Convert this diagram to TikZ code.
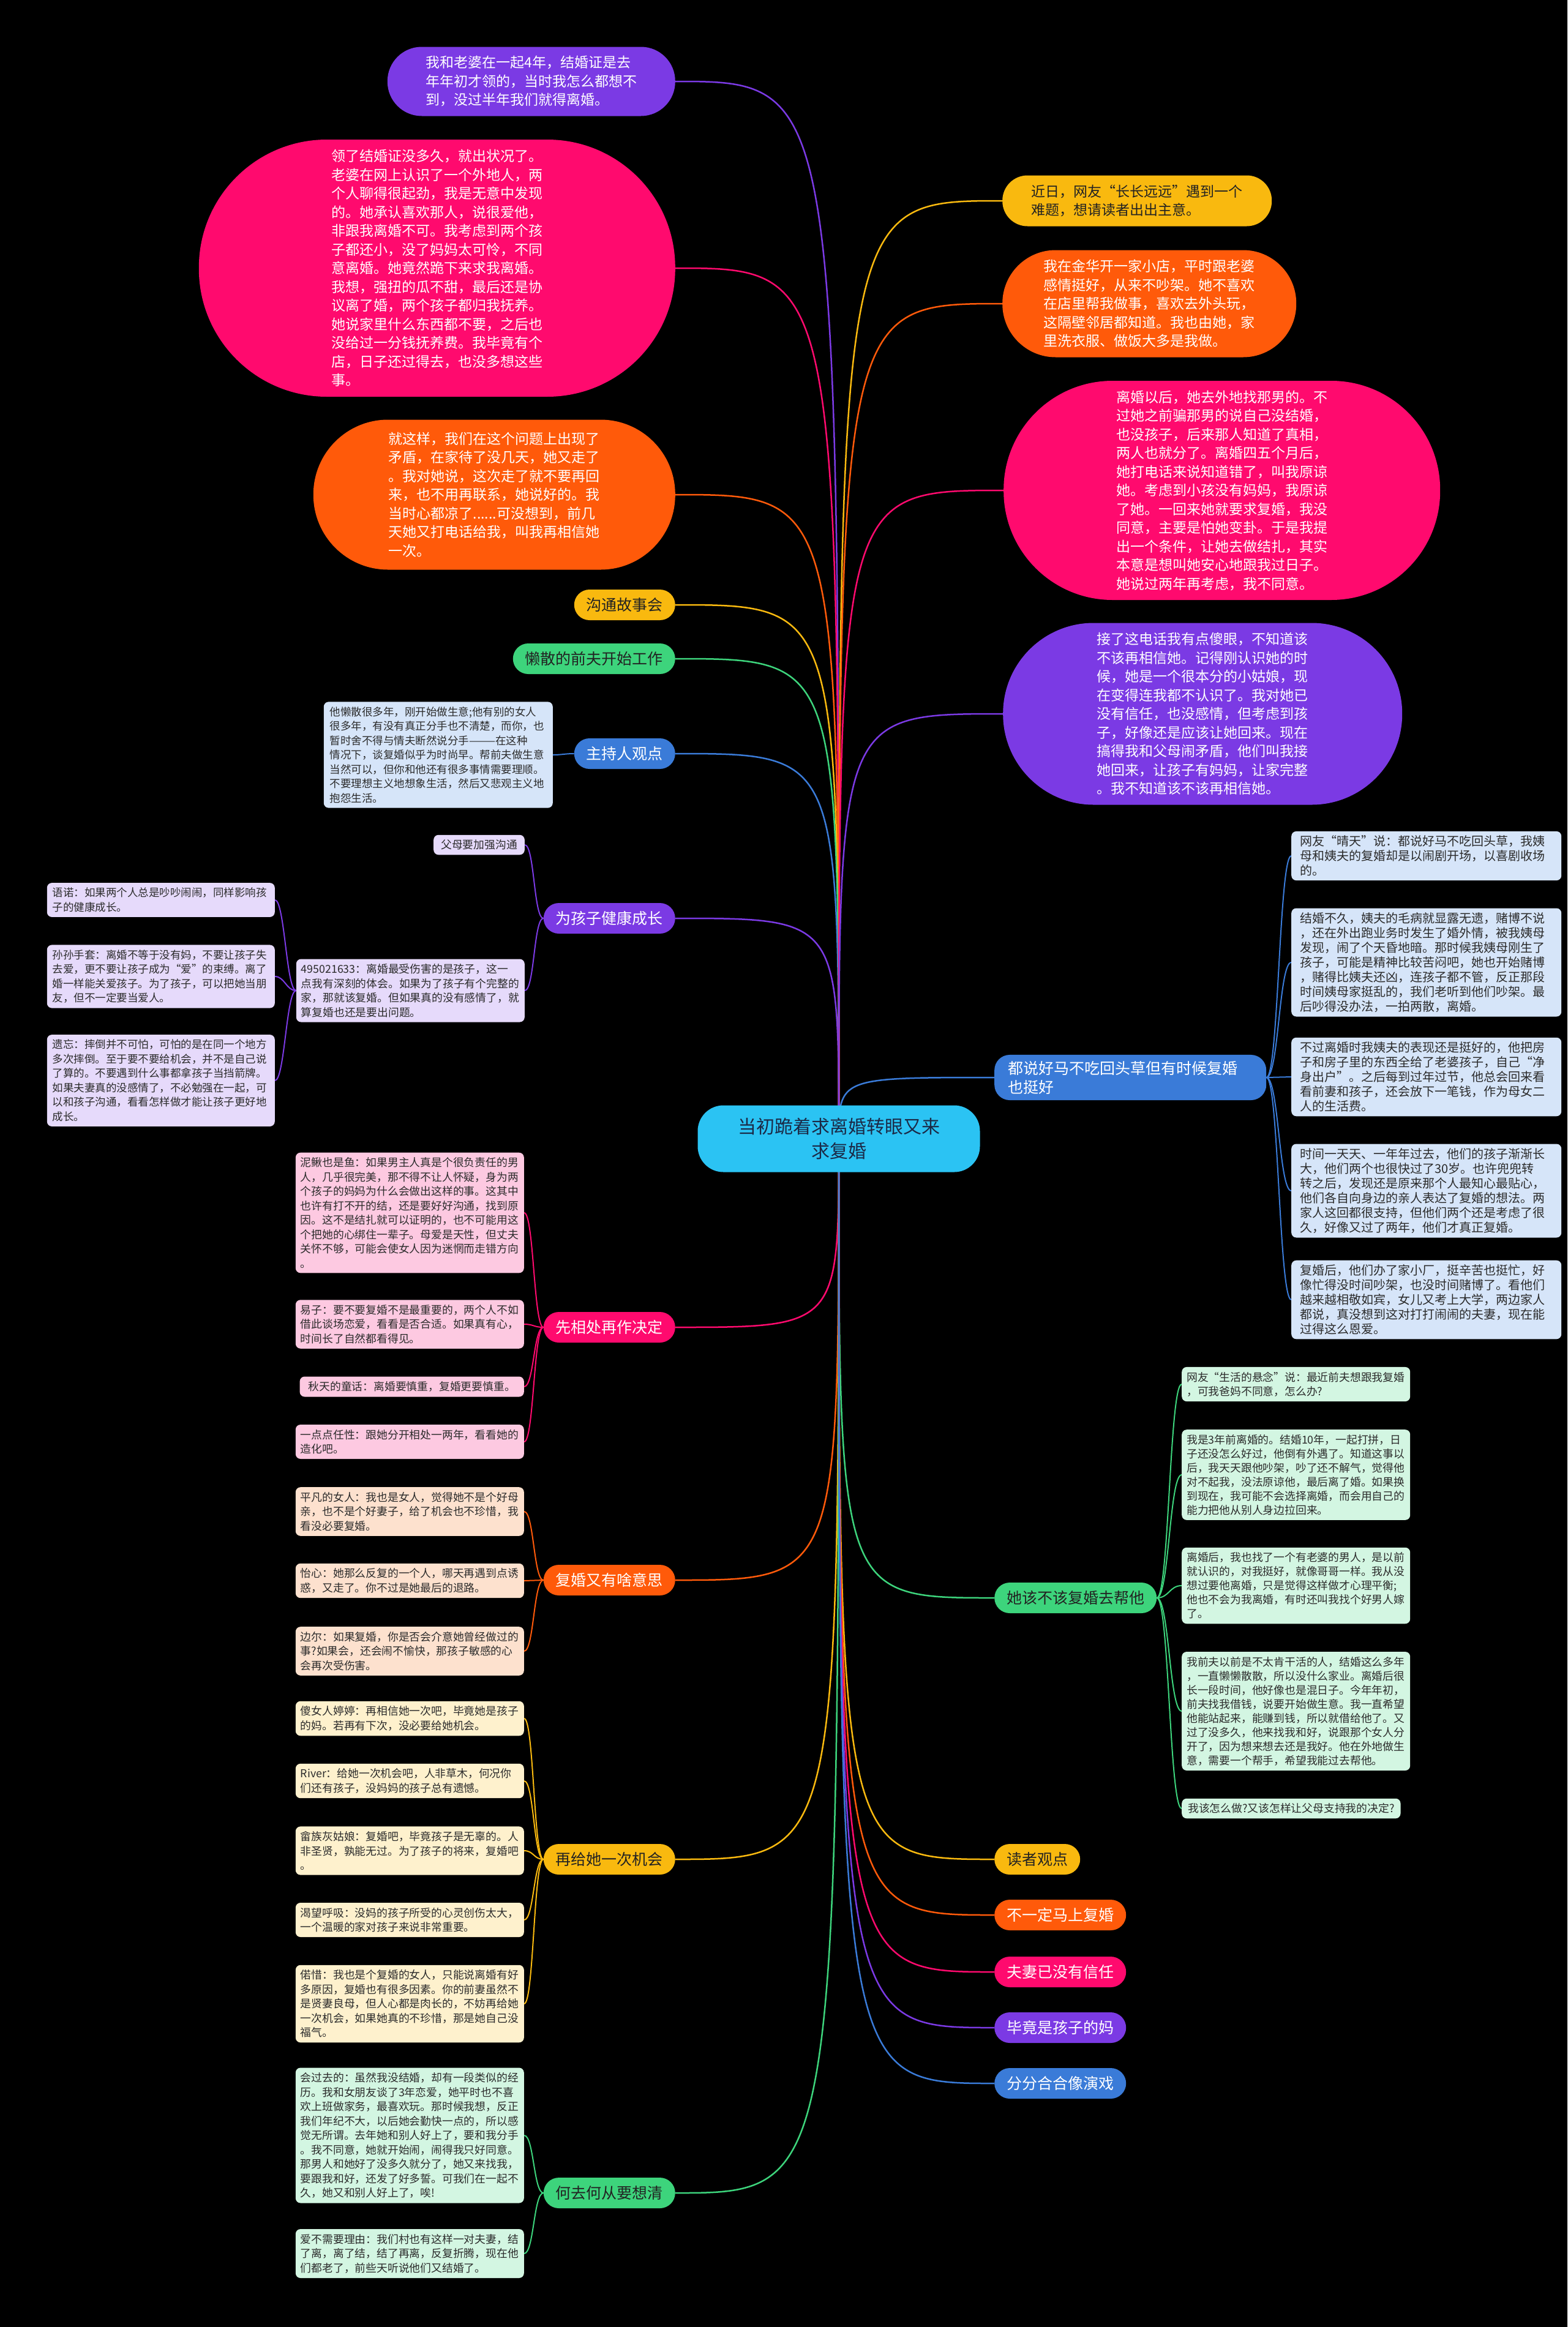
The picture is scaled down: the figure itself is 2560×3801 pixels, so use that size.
\documentclass[tikz,border=0pt]{standalone}
\usepackage{fontspec}
\setmainfont{Noto Sans CJK SC}
\usetikzlibrary{calc}
\pgfdeclarelayer{bg}
\pgfdeclarelayer{lines}
\pgfsetlayers{bg,lines,main}
\definecolor{cCtr}{HTML}{2BC3F3}
\definecolor{cCtrT}{HTML}{1B2A47}
\definecolor{cPur}{HTML}{7B3AE4}
\definecolor{cPnk}{HTML}{FF0A6E}
\definecolor{cOra}{HTML}{FF5A0A}
\definecolor{cYel}{HTML}{F9B90F}
\definecolor{cGrn}{HTML}{3DD47C}
\definecolor{cBlu}{HTML}{3A7BD8}
\definecolor{fLav}{HTML}{E6DAFB}
\definecolor{fPnk}{HTML}{FDC9E1}
\definecolor{fPch}{HTML}{FDE1CE}
\definecolor{fCrm}{HTML}{FEF1CD}
\definecolor{fMnt}{HTML}{D3F6E2}
\definecolor{fLbl}{HTML}{D6E5F9}
\definecolor{cTxt}{HTML}{2B2B2B}
\definecolor{cDark}{HTML}{222222}
\newcommand\mmL[2]{\draw[ln,#1] (ctr.center) .. controls (ctr.center |- #2) .. (#2);}
\newcommand\mmA[3]{\draw[sub,#1] (#2.west) .. controls +(-16pt,0pt) and +(16pt,0pt) .. (#3.east);}
\newcommand\mmB[3]{\draw[sub,#1] (#2.east) .. controls +(20pt,0pt) and +(-20pt,0pt) .. (#3.west);}
\tikzset{
 bub/.style={inner sep=0pt, align=left, text=white, font=\fontsize{23pt}{30.5pt}\selectfont},
 lone/.style={rounded corners=25pt, minimum height=50pt, inner xsep=20pt, inner ysep=10pt, font=\fontsize{25pt}{31pt}\selectfont, text=white},
 kid/.style={rounded corners=8pt, align=left, text=cTxt, inner ysep=8pt, font=\fontsize{17.8pt}{23.5pt}\selectfont},
 kidL/.style={kid, text width=357pt, inner xsep=8pt, anchor=east},
 kidV/.style={kid, text width=354pt, inner xsep=9pt, anchor=east, font=\fontsize{17.5pt}{23.5pt}\selectfont},
 kidR/.style={kid, text width=357pt, inner xsep=8pt, anchor=west, font=\fontsize{17.8pt}{23pt}\selectfont},
 kidB/.style={kid, text width=413pt, inner xsep=14pt, inner ysep=7pt, anchor=west, font=\fontsize{20pt}{24pt}\selectfont},
 ln/.style={line width=2.5pt},
 sub/.style={line width=2pt},
}
\begin{document}
\begin{tikzpicture}[x=1pt,y=-1pt]
\useasboundingbox (0,0) rectangle (2560,3801);
\begin{pgfonlayer}{bg}
\fill[black] (0,0) rectangle (2560,3801);
\end{pgfonlayer}

% centre
\node[fill=cCtr, rounded corners=42pt, minimum width=461pt, minimum height=109pt, align=center, text=cCtrT, font=\fontsize{30pt}{40pt}\selectfont] (ctr) at (1370,1860) {当初跪着求离婚转眼又来\\求复婚};

% story bubbles
\node[bub, fill=cPur, minimum width=470pt, minimum height=113pt, rounded corners=56pt, anchor=east] (b1) at (1103,133) {我和老婆在一起4年，结婚证是去\\年年初才领的，当时我怎么都想不\\到，没过半年我们就得离婚。};
\node[bub, fill=cPnk, minimum width=778pt, minimum height=420pt, rounded corners=209pt, anchor=east] (b2) at (1103,438) {领了结婚证没多久，就出状况了。\\老婆在网上认识了一个外地人，两\\个人聊得很起劲，我是无意中发现\\的。她承认喜欢那人，说很爱他，\\非跟我离婚不可。我考虑到两个孩\\子都还小，没了妈妈太可怜，不同\\意离婚。她竟然跪下来求我离婚。\\我想，强扭的瓜不甜，最后还是协\\议离了婚，两个孩子都归我抚养。\\她说家里什么东西都不要，之后也\\没给过一分钱抚养费。我毕竟有个\\店，日子还过得去，也没多想这些\\事。};
\node[bub, fill=cOra, minimum width=591pt, minimum height=245pt, rounded corners=122pt, anchor=east] (b3) at (1103,808) {就这样，我们在这个问题上出现了\\矛盾，在家待了没几天，她又走了\\。我对她说，这次走了就不要再回\\来，也不用再联系，她说好的。我\\当时心都凉了......可没想到，前几\\天她又打电话给我，叫我再相信她\\一次。};
\node[bub, fill=cYel, text=cDark, minimum width=440pt, minimum height=83pt, rounded corners=41pt, anchor=west] (b4) at (1637,328) {近日，网友“长长远远”遇到一个\\难题，想请读者出出主意。};
\node[bub, fill=cOra, minimum width=480pt, minimum height=175pt, rounded corners=87pt, anchor=west] (b5) at (1637,496) {我在金华开一家小店，平时跟老婆\\感情挺好，从来不吵架。她不喜欢\\在店里帮我做事，喜欢去外头玩，\\这隔壁邻居都知道。我也由她，家\\里洗衣服、做饭大多是我做。};
\node[bub, fill=cPnk, minimum width=713pt, minimum height=358pt, rounded corners=178pt, anchor=west] (b6) at (1639,801) {离婚以后，她去外地找那男的。不\\过她之前骗那男的说自己没结婚，\\也没孩子，后来那人知道了真相，\\两人也就分了。离婚四五个月后，\\她打电话来说知道错了，叫我原谅\\她。考虑到小孩没有妈妈，我原谅\\了她。一回来她就要求复婚，我没\\同意，主要是怕她变卦。于是我提\\出一个条件，让她去做结扎，其实\\本意是想叫她安心地跟我过日子。\\她说过两年再考虑，我不同意。};
\node[bub, fill=cPur, minimum width=652pt, minimum height=297pt, rounded corners=148pt, anchor=west] (b7) at (1638,1166) {接了这电话我有点傻眼，不知道该\\不该再相信她。记得刚认识她的时\\候，她是一个很本分的小姑娘，现\\在变得连我都不认识了。我对她已\\没有信任，也没感情，但考虑到孩\\子，好像还是应该让她回来。现在\\搞得我和父母闹矛盾，他们叫我接\\她回来，让孩子有妈妈，让家完整\\。我不知道该不该再相信她。};

% first level, left
\node[lone, fill=cYel, text=cDark, anchor=east] (n1) at (1103,988) {沟通故事会};
\node[lone, fill=cGrn, text=cDark, anchor=east] (n2) at (1103,1076) {懒散的前夫开始工作};
\node[lone, fill=cBlu, anchor=east] (n3) at (1103,1231) {主持人观点};
\node[lone, fill=cPur, anchor=east] (n4) at (1103,1500) {为孩子健康成长};
\node[lone, fill=cPnk, anchor=east] (n5) at (1103,2168) {先相处再作决定};
\node[lone, fill=cOra, anchor=east] (n6) at (1103,2581) {复婚又有啥意思};
\node[lone, fill=cYel, text=cDark, anchor=east] (n7) at (1103,3037) {再给她一次机会};
\node[lone, fill=cGrn, text=cDark, anchor=east] (n8) at (1103,3582) {何去何从要想清};

% first level, right
\node[lone, fill=cBlu, anchor=west, align=left, text width=400pt, inner xsep=22pt] (m1) at (1624,1760) {都说好马不吃回头草但有时候复婚\\也挺好};
\node[lone, fill=cGrn, text=cDark, anchor=west] (m2) at (1624,2610) {她该不该复婚去帮他};
\node[lone, fill=cYel, text=cDark, anchor=west] (m3) at (1624,3037) {读者观点};
\node[lone, fill=cOra, anchor=west] (m4) at (1624,3128) {不一定马上复婚};
\node[lone, fill=cPnk, anchor=west] (m5) at (1624,3221) {夫妻已没有信任};
\node[lone, fill=cPur, anchor=west] (m6) at (1624,3312) {毕竟是孩子的妈};
\node[lone, fill=cBlu, anchor=west] (m7) at (1624,3403) {分分合合像演戏};

% host
\node[kid, fill=fLbl, text width=354pt, inner xsep=10pt, font=\fontsize{17.5pt}{23.5pt}\selectfont, anchor=east] (h1) at (903,1233) {他懒散很多年，刚开始做生意;他有别的女人\\很多年，有没有真正分手也不清楚，而你，也\\暂时舍不得与情夫断然说分手———在这种\\情况下，谈复婚似乎为时尚早。帮前夫做生意\\当然可以，但你和他还有很多事情需要理顺。\\不要理想主义地想象生活，然后又悲观主义地\\抱怨生活。};

% children of 为孩子健康成长
\node[kid, fill=fLav, anchor=east, inner xsep=12pt] (p1) at (857,1380) {父母要加强沟通};
\node[kidL, fill=fLav] (p2) at (857,1618) {495021633：离婚最受伤害的是孩子，这一\\点我有深刻的体会。如果为了孩子有个完整的\\家，那就该复婚。但如果真的没有感情了，就\\算复婚也还是要出问题。};
\node[kidV, fill=fLav] (p3) at (449,1470) {语诺：如果两个人总是吵吵闹闹，同样影响孩\\子的健康成长。};
\node[kidV, fill=fLav] (p4) at (449,1595) {孙孙手套：离婚不等于没有妈，不要让孩子失\\去爱，更不要让孩子成为“爱”的束缚。离了\\婚一样能关爱孩子。为了孩子，可以把她当朋\\友，但不一定要当爱人。};
\node[kidV, fill=fLav] (p5) at (449,1765) {遗忘：摔倒并不可怕，可怕的是在同一个地方\\多次摔倒。至于要不要给机会，并不是自己说\\了算的。不要遇到什么事都拿孩子当挡箭牌。\\如果夫妻真的没感情了，不必勉强在一起，可\\以和孩子沟通，看看怎样做才能让孩子更好地\\成长。};

% children of 先相处再作决定
\node[kidL, fill=fPnk] (q1) at (856,1981) {泥鳅也是鱼：如果男主人真是个很负责任的男\\人，几乎很完美，那不得不让人怀疑，身为两\\个孩子的妈妈为什么会做出这样的事。这其中\\也许有打不开的结，还是要好好沟通，找到原\\因。这不是结扎就可以证明的，也不可能用这\\个把她的心绑住一辈子。母爱是天性，但丈夫\\关怀不够，可能会使女人因为迷惘而走错方向\\。};
\node[kidL, fill=fPnk] (q2) at (856,2163) {易子：要不要复婚不是最重要的，两个人不如\\借此谈场恋爱，看看是否合适。如果真有心，\\时间长了自然都看得见。};
\node[kid, fill=fPnk, anchor=east, inner xsep=14pt] (q3) at (856,2265) {秋天的童话：离婚要慎重，复婚更要慎重。};
\node[kidL, fill=fPnk] (q4) at (856,2355) {一点点任性：跟她分开相处一两年，看看她的\\造化吧。};

% children of 复婚又有啥意思
\node[kidL, fill=fPch] (r1) at (856,2469) {平凡的女人：我也是女人，觉得她不是个好母\\亲，也不是个好妻子，给了机会也不珍惜，我\\看没必要复婚。};
\node[kidL, fill=fPch] (r2) at (856,2582) {怡心：她那么反复的一个人，哪天再遇到点诱\\惑，又走了。你不过是她最后的退路。};
\node[kidL, fill=fPch] (r3) at (856,2697) {边尔：如果复婚，你是否会介意她曾经做过的\\事?如果会，还会闹不愉快，那孩子敏感的心\\会再次受伤害。};

% children of 再给她一次机会
\node[kidL, fill=fCrm] (s1) at (856,2807) {傻女人婷婷：再相信她一次吧，毕竟她是孩子\\的妈。若再有下次，没必要给她机会。};
\node[kidL, fill=fCrm] (s2) at (856,2909) {River：给她一次机会吧，人非草木，何况你\\们还有孩子，没妈妈的孩子总有遗憾。};
\node[kidL, fill=fCrm] (s3) at (856,3023) {畲族灰姑娘：复婚吧，毕竟孩子是无辜的。人\\非圣贤，孰能无过。为了孩子的将来，复婚吧\\。};
\node[kidL, fill=fCrm] (s4) at (856,3136) {渴望呼吸：没妈的孩子所受的心灵创伤太大，\\一个温暖的家对孩子来说非常重要。};
\node[kidL, fill=fCrm] (s5) at (856,3273) {偌惜：我也是个复婚的女人，只能说离婚有好\\多原因，复婚也有很多因素。你的前妻虽然不\\是贤妻良母，但人心都是肉长的，不妨再给她\\一次机会，如果她真的不珍惜，那是她自己没\\福气。};

% children of 何去何从要想清
\node[kidL, fill=fMnt] (t1) at (856,3488) {会过去的：虽然我没结婚，却有一段类似的经\\历。我和女朋友谈了3年恋爱，她平时也不喜\\欢上班做家务，最喜欢玩。那时候我想，反正\\我们年纪不大，以后她会勤快一点的，所以感\\觉无所谓。去年她和别人好上了，要和我分手\\。我不同意，她就开始闹，闹得我只好同意。\\那男人和她好了没多久就分了，她又来找我，\\要跟我和好，还发了好多誓。可我们在一起不\\久，她又和别人好上了，唉!};
\node[kidL, fill=fMnt] (t2) at (856,3681) {爱不需要理由：我们村也有这样一对夫妻，结\\了离，离了结，结了再离，反复折腾，现在他\\们都老了，前些天听说他们又结婚了。};

% children of 都说好马...
\node[kidB, fill=fLbl] (u1) at (2109,1398) {网友“晴天”说：都说好马不吃回头草，我姨\\母和姨夫的复婚却是以闹剧开场，以喜剧收场\\的。};
\node[kidB, fill=fLbl] (u2) at (2109,1572) {结婚不久，姨夫的毛病就显露无遗，赌博不说\\，还在外出跑业务时发生了婚外情，被我姨母\\发现，闹了个天昏地暗。那时候我姨母刚生了\\孩子，可能是精神比较苦闷吧，她也开始赌博\\，赌得比姨夫还凶，连孩子都不管，反正那段\\时间姨母家挺乱的，我们老听到他们吵架。最\\后吵得没办法，一拍两散，离婚。};
\node[kidB, fill=fLbl] (u3) at (2109,1759) {不过离婚时我姨夫的表现还是挺好的，他把房\\子和房子里的东西全给了老婆孩子，自己“净\\身出户”。之后每到过年过节，他总会回来看\\看前妻和孩子，还会放下一笔钱，作为母女二\\人的生活费。};
\node[kidB, fill=fLbl] (u4) at (2109,1945) {时间一天天、一年年过去，他们的孩子渐渐长\\大，他们两个也很快过了30岁。也许兜兜转\\转之后，发现还是原来那个人最知心最贴心，\\他们各自向身边的亲人表达了复婚的想法。两\\家人这回都很支持，但他们两个还是考虑了很\\久，好像又过了两年，他们才真正复婚。};
\node[kidB, fill=fLbl] (u5) at (2109,2123) {复婚后，他们办了家小厂，挺辛苦也挺忙，好\\像忙得没时间吵架，也没时间赌博了。看他们\\越来越相敬如宾，女儿又考上大学，两边家人\\都说，真没想到这对打打闹闹的夫妻，现在能\\过得这么恩爱。};

% children of 她该不该复婚去帮他
\node[kidR, fill=fMnt] (v1) at (1930,2261) {网友“生活的悬念”说：最近前夫想跟我复婚\\，可我爸妈不同意，怎么办?};
\node[kidR, fill=fMnt] (v2) at (1930,2409) {我是3年前离婚的。结婚10年，一起打拼，日\\子还没怎么好过，他倒有外遇了。知道这事以\\后，我天天跟他吵架，吵了还不解气，觉得他\\对不起我，没法原谅他，最后离了婚。如果换\\到现在，我可能不会选择离婚，而会用自己的\\能力把他从别人身边拉回来。};
\node[kidR, fill=fMnt] (v3) at (1930,2590) {离婚后，我也找了一个有老婆的男人，是以前\\就认识的，对我挺好，就像哥哥一样。我从没\\想过要他离婚，只是觉得这样做才心理平衡;\\他也不会为我离婚，有时还叫我找个好男人嫁\\了。};
\node[kidR, fill=fMnt] (v4) at (1930,2795) {我前夫以前是不太肯干活的人，结婚这么多年\\，一直懒懒散散，所以没什么家业。离婚后很\\长一段时间，他好像也是混日子。今年年初，\\前夫找我借钱，说要开始做生意。我一直希望\\他能站起来，能赚到钱，所以就借给他了。又\\过了没多久，他来找我和好，说跟那个女人分\\开了，因为想来想去还是我好。他在外地做生\\意，需要一个帮手，希望我能过去帮他。};
\node[kid, fill=fMnt, anchor=west, inner xsep=10pt, font=\fontsize{17.8pt}{23pt}\selectfont] (v5) at (1930,2954) {我该怎么做?又该怎样让父母支持我的决定?};

\begin{pgfonlayer}{lines}
% centre links
\mmL{cPur}{b1.east}
\mmL{cPnk}{b2.east}
\mmL{cOra}{b3.east}
\mmL{cYel}{n1.east}
\mmL{cGrn}{n2.east}
\mmL{cBlu}{n3.east}
\mmL{cPur}{n4.east}
\mmL{cPnk}{n5.east}
\mmL{cOra}{n6.east}
\mmL{cYel}{n7.east}
\mmL{cGrn}{n8.east}
\mmL{cYel}{b4.west}
\mmL{cOra}{b5.west}
\mmL{cPnk}{b6.west}
\mmL{cPur}{b7.west}
\mmL{cBlu}{m1.west}
\mmL{cGrn}{m2.west}
\mmL{cYel}{m3.west}
\mmL{cOra}{m4.west}
\mmL{cPnk}{m5.west}
\mmL{cPur}{m6.west}
\mmL{cBlu}{m7.west}
% branch links
\mmA{cBlu}{n3}{h1}
\mmA{cPur}{n4}{p1}
\mmA{cPur}{n4}{p2}
\mmA{cPur}{p2}{p3}
\mmA{cPur}{p2}{p4}
\mmA{cPur}{p2}{p5}
\mmA{cPnk}{n5}{q1}
\mmA{cPnk}{n5}{q2}
\mmA{cPnk}{n5}{q3}
\mmA{cPnk}{n5}{q4}
\mmA{cOra}{n6}{r1}
\mmA{cOra}{n6}{r2}
\mmA{cOra}{n6}{r3}
\mmA{cYel}{n7}{s1}
\mmA{cYel}{n7}{s2}
\mmA{cYel}{n7}{s3}
\mmA{cYel}{n7}{s4}
\mmA{cYel}{n7}{s5}
\mmA{cGrn}{n8}{t1}
\mmA{cGrn}{n8}{t2}
\mmB{cBlu}{m1}{u1}
\mmB{cBlu}{m1}{u2}
\mmB{cBlu}{m1}{u3}
\mmB{cBlu}{m1}{u4}
\mmB{cBlu}{m1}{u5}
\mmB{cGrn}{m2}{v1}
\mmB{cGrn}{m2}{v2}
\mmB{cGrn}{m2}{v3}
\mmB{cGrn}{m2}{v4}
\mmB{cGrn}{m2}{v5}
\end{pgfonlayer}
\end{tikzpicture}
\end{document}
